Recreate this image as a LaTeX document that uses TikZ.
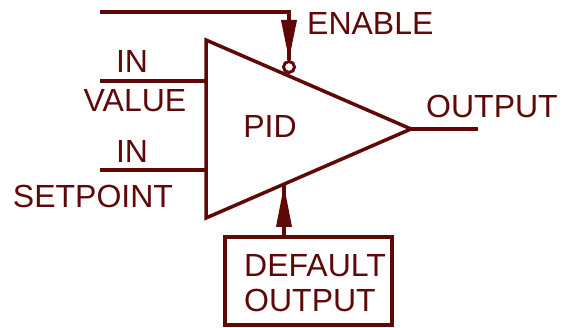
\documentclass[tikz,border=0pt]{standalone}
\usepackage{fontspec}
\setmainfont{Liberation Sans}
\usetikzlibrary{arrows.meta}
\definecolor{wire}{RGB}{94,8,8}
\tikzset{
  pin/.style={draw=wire,line width=3.5pt},
  label/.style={text=wire,font=\fontsize{32}{36}\selectfont,inner sep=0pt,anchor=base},
  bigtip/.style={-{Triangle[length=#1,width=15pt]}}
}
\begin{document}
\begin{tikzpicture}[x=1pt,y=-1pt]
  \useasboundingbox (0,0) rectangle (562,328);
  % amplifier body
  \coordinate (tl) at (206,40);
  \coordinate (bl) at (206,218);
  \coordinate (apex) at (411,129);
  \draw[pin,line join=miter] (tl) -- (apex) -- (bl) -- cycle;
  \node[label] (pid) at (270,138) {PID};
  % inputs
  \coordinate (valstart) at (100,81);
  \coordinate (valend) at (206,81);
  \coordinate (setstart) at (100,170);
  \coordinate (setend) at (206,170);
  \draw[pin] (valstart) -- (valend);
  \draw[pin] (setstart) -- (setend);
  \node[label] (in1) at (132,73) {IN};
  \node[label] (value) at (135,112) {VALUE};
  \node[label] (in2) at (132,163) {IN};
  \node[label] (setpoint) at (93,208) {SETPOINT};
  % output
  \coordinate (outend) at (478,129);
  \draw[pin] (apex) -- (outend);
  \node[label] (output) at (492,118) {OUTPUT};
  % enable
  \coordinate (enstart) at (100,12);
  \coordinate (encorner) at (289,12);
  \node[draw=wire,line width=3pt,circle,minimum size=11pt,inner sep=0pt] (bubble) at (289,67) {};
  \draw[pin] (enstart) -- (encorner) -- (bubble.north);
  \draw[pin,bigtip=40pt] (encorner) -- (bubble.north);
  \node[label,anchor=base west] (enable) at (307,35) {ENABLE};
  % default output
  \draw[pin] (225,237) rectangle (392,325);
  \coordinate (boxtop) at (284,237);
  \coordinate (bottomedge) at (284,185);
  \draw[pin] (boxtop) -- (bottomedge);
  \draw[pin,bigtip=42pt] (boxtop) -- (bottomedge);
  \node[label,anchor=base west] (default) at (244,277) {DEFAULT};
  \node[label,anchor=base west] (defout) at (244,312) {OUTPUT};
\end{tikzpicture}
\end{document}
